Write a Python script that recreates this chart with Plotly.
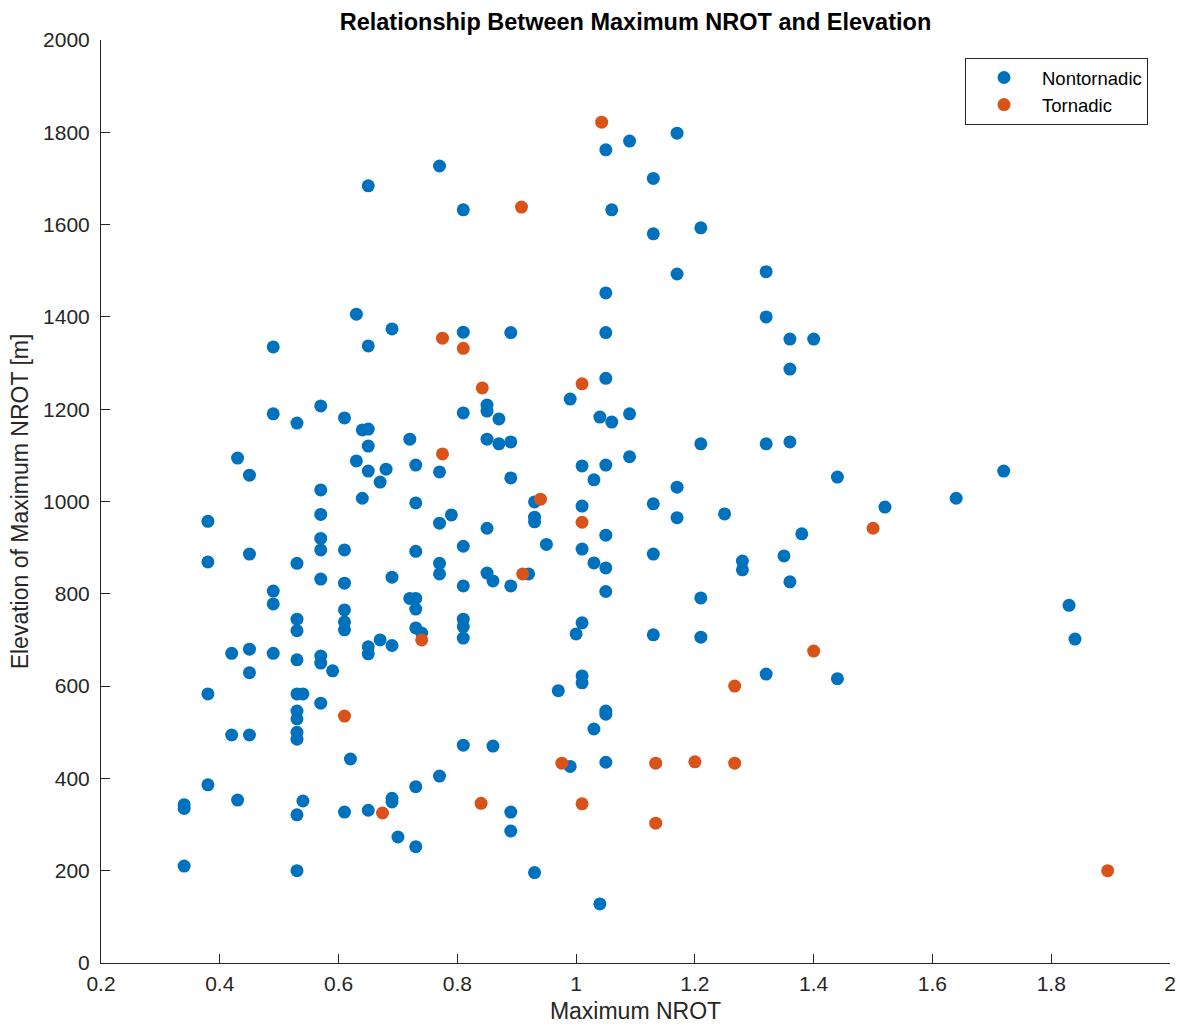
import plotly.graph_objects as go

# ---- data ----
nontornadic_nrot = (
    [0.34] * 3 + [0.38] * 4 + [0.42] * 2 + [0.43] * 2 + [0.45] * 5 + [0.49] * 5
    + [0.53] * 12 + [0.54] * 2 + [0.57] * 9 + [0.59] + [0.61] * 7 + [0.62]
    + [0.63] * 2 + [0.64] * 2 + [0.65] * 8 + [0.67] * 2 + [0.68] + [0.69] * 5
    + [0.70] + [0.72] * 2 + [0.73] * 8 + [0.74] + [0.77] * 6 + [0.79]
    + [0.81] * 9 + [0.85] * 5 + [0.86] * 2 + [0.87] * 2 + [0.89] * 6 + [0.92]
    + [0.93] * 4 + [0.95] + [0.97] + [0.99] * 2 + [1.00] + [1.01] * 6
    + [1.03] * 3 + [1.04] * 2 + [1.05] * 11 + [1.06] * 2 + [1.09] * 3
    + [1.13] * 5 + [1.17] * 4 + [1.21] * 4 + [1.25] + [1.28] * 2 + [1.32] * 4
    + [1.35] + [1.36] * 4 + [1.38] + [1.40] + [1.44] * 2 + [1.52] + [1.64]
    + [1.72] + [1.83] + [1.84]
)
nontornadic_elev = [
    343, 335, 210,
    957, 869, 583, 386,
    671, 494,
    1094, 353,
    1057, 886, 680, 629, 494,
    1335, 1190, 806, 778, 671,
    1170, 866, 745, 720, 657, 583, 546, 529, 500, 485, 321, 200,
    583, 351,
    1207, 1025, 972, 920, 895, 832, 665, 650, 563,
    633,
    1181, 895, 823, 765, 739, 722, 327,
    442,
    1406, 1088,
    1155, 1007,
    1684, 1337, 1157, 1120, 1066, 685, 670, 331,
    1042, 700,
    1070,
    1374, 836, 688, 357, 349,
    273,
    1135, 790,
    1079, 997, 892, 790, 767, 726, 382, 252,
    715,
    1727, 1064, 953, 866, 843, 405,
    971,
    1632, 1367, 1192, 903, 817, 745, 729, 704, 472,
    1209, 1196, 1135, 942, 845,
    828, 470,
    1179, 1125,
    1366, 1129, 1051, 817, 327, 286,
    843,
    999, 966, 956, 196,
    907,
    590,
    1222, 426,
    713,
    1077, 990, 897, 737, 622, 607,
    1047, 867, 507,
    1183, 128,
    1762, 1452, 1366, 1267, 1079, 927, 856, 805, 546, 539, 435,
    1632, 1172,
    1781, 1190, 1097,
    1700, 1580, 995, 886, 711,
    1798, 1493, 1031, 965,
    1593, 1125, 791, 706,
    973,
    871, 852,
    1498, 1400, 1125, 626,
    882,
    1352, 1287, 1129, 826,
    930,
    1352,
    1053, 616,
    988,
    1007,
    1066,
    775,
    702,
]

tornadic_nrot = [1.043, 0.908, 0.775, 0.81, 0.842, 1.01, 0.775, 0.94, 1.01, 0.91,
                 1.50, 0.74, 1.40, 1.267, 0.61, 0.976, 1.134, 1.20, 1.267, 0.84,
                 0.674, 1.01, 1.134, 1.895]
tornadic_elev = [1822, 1638, 1354, 1332, 1246, 1255, 1103, 1005, 955, 843,
                 942, 700, 676, 600, 535, 433, 433, 436, 433, 346,
                 325, 345, 303, 200]

x_ticks = [0.2, 0.4, 0.6, 0.8, 1, 1.2, 1.4, 1.6, 1.8, 2]
x_tick_labels = ["0.2", "0.4", "0.6", "0.8", "1", "1.2", "1.4", "1.6", "1.8", "2"]
y_ticks = [0, 200, 400, 600, 800, 1000, 1200, 1400, 1600, 1800, 2000]

BLUE = "#0072BD"
ORANGE = "#D95319"
AXIS = "#262626"
FONT = "Liberation Sans, Arial, Helvetica, sans-serif"

fig = go.Figure()
fig.add_trace(go.Scatter(
    x=nontornadic_nrot, y=nontornadic_elev, mode="markers", name="Nontornadic",
    marker=dict(color=BLUE, size=13, line=dict(width=0)),
))
fig.add_trace(go.Scatter(
    x=tornadic_nrot, y=tornadic_elev, mode="markers", name="Tornadic",
    marker=dict(color=ORANGE, size=13, line=dict(width=0)),
))

fig.update_layout(
    width=1180, height=1028,
    margin=dict(l=101, r=10, t=40, b=65, autoexpand=False),
    paper_bgcolor="white", plot_bgcolor="white",
    font=dict(family=FONT, color=AXIS, size=21),
    title=dict(
        text="<b>Relationship Between Maximum NROT and Elevation</b>",
        x=(101 + 1069 / 2) / 1180, xanchor="center",
        y=1 - 22 / 1028, yanchor="middle",
        font=dict(family=FONT, size=23.5, color="#000000"),
    ),
    showlegend=True,
    legend=dict(
        x=(965 - 101) / 1069, xanchor="left",
        y=(963 - 58) / 923, yanchor="top",
        bgcolor="white", bordercolor=AXIS, borderwidth=1,
        font=dict(family=FONT, size=18.5, color="#000000"),
        itemwidth=66, tracegroupgap=0,
    ),
)

fig.update_xaxes(
    range=[0.2, 2], tickmode="array", tickvals=x_ticks, ticktext=x_tick_labels,
    showgrid=False, zeroline=False, showline=True, linecolor=AXIS, linewidth=1,
    ticks="inside", ticklen=9, tickcolor=AXIS, tickwidth=1,
    tickfont=dict(family=FONT, size=21, color=AXIS),
    ticklabelstandoff=2,
    title=dict(text="Maximum NROT", font=dict(family=FONT, size=23, color=AXIS), standoff=8),
    automargin=False, mirror=False,
)
fig.update_yaxes(
    range=[0, 2000], tickmode="array", tickvals=y_ticks,
    showgrid=False, zeroline=False, showline=True, linecolor=AXIS, linewidth=1,
    ticks="inside", ticklen=9, tickcolor=AXIS, tickwidth=1,
    tickfont=dict(family=FONT, size=21, color=AXIS),
    ticklabelstandoff=6,
    title=dict(text="Elevation of Maximum NROT [m]", font=dict(family=FONT, size=23, color=AXIS), standoff=8),
    automargin=False, mirror=False,
)

fig.write_html("out.html")
